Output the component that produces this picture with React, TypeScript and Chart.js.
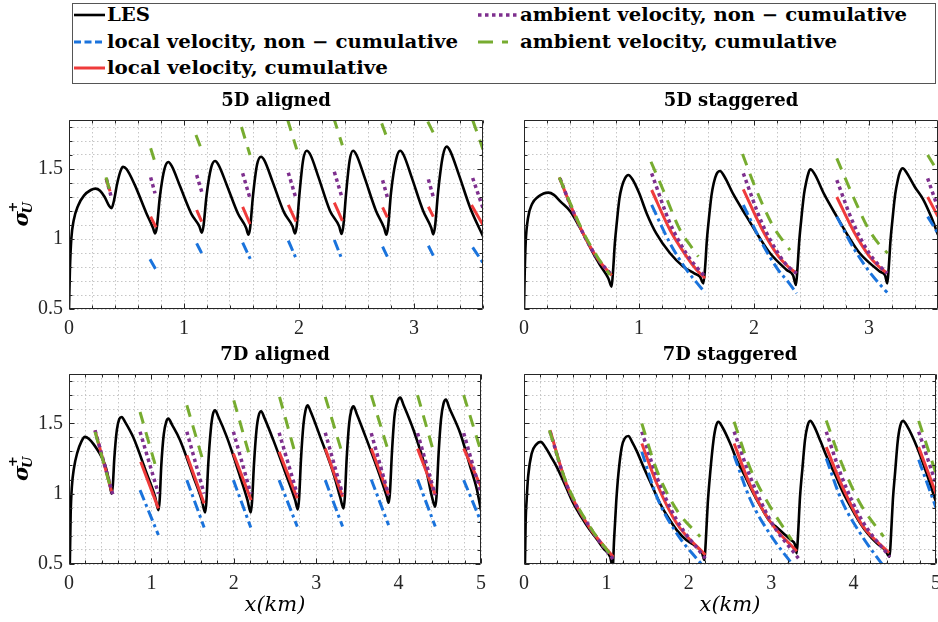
import React, { useEffect, useRef } from 'react';
import { Chart, registerables } from 'chart.js';

Chart.register(...registerables);

type P = [number, number];

// ---------------- text ----------------
const PANEL_TITLES = ['5D aligned', '5D staggered', '7D aligned', '7D staggered'];
const LEGEND_LABELS = [
  'LES',
  'local velocity, non \u2212 cumulative',
  'local velocity, cumulative',
  'ambient velocity, non \u2212 cumulative',
  'ambient velocity, cumulative',
];
const X_TITLE = 'x(km)';

// ---------------- ticks ----------------
const Y_TICKS = [0.5, 0.6, 0.7, 0.8, 0.9, 1.0, 1.1, 1.2, 1.3, 1.4, 1.5, 1.6, 1.7, 1.8];
const Y_TICK_LABELS = [0.5, 1, 1.5];
const X_TICKS_5D = [0, 0.2, 0.4, 0.6, 0.8, 1.0, 1.2, 1.4, 1.6, 1.8, 2.0, 2.2, 2.4, 2.6, 2.8, 3.0, 3.2, 3.4, 3.6];
const X_TICK_LABELS_5D = [0, 1, 2, 3];
const X_TICKS_7D = [0, 0.2, 0.4, 0.6, 0.8, 1.0, 1.2, 1.4, 1.6, 1.8, 2.0, 2.2, 2.4, 2.6, 2.8, 3.0, 3.2, 3.4, 3.6, 3.8, 4.0, 4.2, 4.4, 4.6, 4.8, 5.0];
const X_TICK_LABELS_7D = [0, 1, 2, 3, 4, 5];

// ---------------- 5D aligned ----------------
const TL_LES: P[] = [
  [0, 0.5], [0.008, 0.78], [0.02, 1.0], [0.04, 1.13], [0.08, 1.24], [0.13, 1.31], [0.19, 1.35], [0.23, 1.36],
  [0.27, 1.345], [0.31, 1.3], [0.35, 1.235], [0.37, 1.22], [0.39, 1.27], [0.42, 1.4], [0.45, 1.49], [0.47, 1.515],
  [0.5, 1.5], [0.57, 1.39], [0.67, 1.19], [0.73, 1.08], [0.748, 1.04], [0.763, 1.08], [0.79, 1.3], [0.83, 1.5],
  [0.864, 1.55], [0.894, 1.52], [0.964, 1.38], [1.064, 1.18], [1.134, 1.09], [1.154, 1.045], [1.169, 1.09],
  [1.196, 1.31], [1.236, 1.51], [1.27, 1.557], [1.3, 1.53], [1.37, 1.39], [1.47, 1.18], [1.54, 1.08], [1.56, 1.03],
  [1.575, 1.08], [1.6, 1.31], [1.635, 1.53], [1.67, 1.588], [1.7, 1.56], [1.77, 1.41], [1.87, 1.19], [1.945, 1.09],
  [1.965, 1.04], [1.98, 1.09], [2.005, 1.33], [2.035, 1.56], [2.067, 1.63], [2.1, 1.6], [2.17, 1.44], [2.27, 1.2],
  [2.35, 1.09], [2.37, 1.036], [2.385, 1.09], [2.41, 1.33], [2.44, 1.56], [2.47, 1.63], [2.5, 1.6], [2.57, 1.44],
  [2.67, 1.2], [2.74, 1.08], [2.76, 1.03], [2.775, 1.09], [2.8, 1.33], [2.845, 1.57], [2.88, 1.63], [2.91, 1.6],
  [2.98, 1.44], [3.08, 1.2], [3.15, 1.08], [3.168, 1.033], [3.183, 1.09], [3.21, 1.34], [3.25, 1.59], [3.284, 1.66],
  [3.314, 1.63], [3.39, 1.46], [3.49, 1.22], [3.6, 1.02],
];
const TL_LOCAL_NC: P[][] = [
  [[0.704, 0.855], [0.754, 0.783]], [[1.11, 0.969], [1.154, 0.898]], [[1.51, 0.974], [1.58, 0.85]],
  [[1.907, 0.988], [1.974, 0.862]], [[2.307, 0.993], [2.37, 0.862]], [[2.727, 0.945], [2.768, 0.874]],
  [[3.125, 0.952], [3.168, 0.881]], [[3.51, 0.94], [3.6, 0.83]],
];
const TL_LOCAL_C: P[][] = [
  [[0.322, 1.43], [0.357, 1.34]], [[0.71, 1.16], [0.757, 1.083]], [[1.11, 1.207], [1.154, 1.124]],
  [[1.51, 1.23], [1.574, 1.107]], [[1.907, 1.243], [1.974, 1.124]], [[2.307, 1.26], [2.377, 1.13]],
  [[2.727, 1.226], [2.768, 1.155]], [[3.125, 1.23], [3.168, 1.16]], [[3.5, 1.243], [3.6, 1.1]],
];
const TL_AMB_NC: P[][] = [
  [[0.325, 1.43], [0.364, 1.31]], [[0.71, 1.44], [0.748, 1.326]], [[1.11, 1.457], [1.154, 1.338]],
  [[1.51, 1.47], [1.574, 1.29]], [[1.907, 1.474], [1.97, 1.3]], [[2.307, 1.48], [2.37, 1.307]],
  [[2.727, 1.42], [2.768, 1.3]], [[3.125, 1.426], [3.168, 1.3]], [[3.51, 1.436], [3.6, 1.22]],
];
const TL_AMB_C: P[][] = [
  [[0.322, 1.44], [0.351, 1.355]], [[0.71, 1.648], [0.742, 1.564]], [[1.104, 1.743], [1.145, 1.655]],
  [[1.5, 1.8], [1.574, 1.6]], [[1.9, 1.855], [1.98, 1.64]], [[2.3, 1.87], [2.377, 1.67]],
  [[2.719, 1.826], [2.762, 1.73]], [[3.12, 1.838], [3.17, 1.755]], [[3.51, 1.85], [3.6, 1.64]],
];

// ---------------- 5D staggered ----------------
const TR_LES: P[] = [
  [0, 0.5], [0.006, 0.75], [0.015, 0.98], [0.035, 1.15], [0.07, 1.25], [0.12, 1.3], [0.17, 1.325], [0.212, 1.331],
  [0.26, 1.315], [0.32, 1.265], [0.4, 1.2], [0.48, 1.09], [0.545, 0.99], [0.6, 0.9], [0.661, 0.814], [0.733, 0.72],
  [0.762, 0.66], [0.775, 0.78], [0.79, 0.97], [0.806, 1.11], [0.83, 1.29], [0.85, 1.37], [0.878, 1.433], [0.907, 1.457],
  [0.94, 1.43], [1.0, 1.33], [1.067, 1.183], [1.15, 1.04], [1.27, 0.898], [1.386, 0.802], [1.48, 0.755], [1.53, 0.731],
  [1.56, 0.683], [1.575, 0.8], [1.59, 0.99], [1.606, 1.13], [1.63, 1.31], [1.65, 1.4], [1.675, 1.465], [1.704, 1.486],
  [1.74, 1.45], [1.82, 1.32], [1.936, 1.16], [2.04, 1.02], [2.14, 0.898], [2.284, 0.779], [2.34, 0.74], [2.365, 0.671],
  [2.378, 0.79], [2.393, 0.98], [2.41, 1.13], [2.435, 1.32], [2.455, 1.41], [2.475, 1.475], [2.49, 1.498], [2.53, 1.46],
  [2.61, 1.32], [2.72, 1.16], [2.82, 1.02], [2.92, 0.898], [3.096, 0.767], [3.14, 0.74], [3.159, 0.683], [3.172, 0.8],
  [3.187, 0.99], [3.203, 1.13], [3.228, 1.32], [3.25, 1.42], [3.27, 1.48], [3.293, 1.505], [3.33, 1.47], [3.4, 1.37],
  [3.473, 1.28], [3.54, 1.16], [3.6, 1.03],
];
const TR_LOCAL_NC: P[][] = [
  [[1.11, 1.243], [1.27, 0.969], [1.414, 0.779], [1.5, 0.69], [1.574, 0.617]],
  [[1.907, 1.243], [2.07, 0.97], [2.21, 0.78], [2.3, 0.69], [2.37, 0.612]],
  [[2.72, 1.16], [2.87, 0.93], [3.0, 0.77], [3.09, 0.68], [3.158, 0.617]],
  [[3.51, 1.16], [3.6, 1.04]],
];
const TR_LOCAL_C: P[][] = [
  [[0.307, 1.44], [0.4, 1.25], [0.52, 1.03], [0.64, 0.86], [0.762, 0.74]],
  [[1.11, 1.35], [1.27, 1.064], [1.414, 0.874], [1.5, 0.78], [1.574, 0.72]],
  [[1.907, 1.355], [2.07, 1.07], [2.21, 0.88], [2.3, 0.8], [2.37, 0.755]],
  [[2.72, 1.3], [2.87, 1.05], [3.0, 0.88], [3.09, 0.8], [3.158, 0.755]],
  [[3.51, 1.3], [3.6, 1.16]],
];
const TR_AMB_NC: P[][] = [
  [[0.313, 1.433], [0.4, 1.25], [0.52, 1.03], [0.64, 0.86], [0.748, 0.755]],
  [[1.11, 1.469], [1.27, 1.112], [1.41, 0.898], [1.5, 0.8], [1.574, 0.731]],
  [[1.907, 1.469], [2.07, 1.112], [2.21, 0.898], [2.3, 0.8], [2.37, 0.755]],
  [[2.72, 1.42], [2.87, 1.1], [3.0, 0.9], [3.09, 0.81], [3.158, 0.755]],
  [[3.51, 1.433], [3.6, 1.22]],
];
const TR_AMB_C: P[][] = [
  [[0.307, 1.44], [0.4, 1.26], [0.52, 1.04], [0.64, 0.87], [0.748, 0.743]],
  [[1.104, 1.552], [1.21, 1.35], [1.357, 1.064], [1.45, 0.95], [1.516, 0.874]],
  [[1.9, 1.607], [2.02, 1.35], [2.168, 1.088], [2.25, 0.99], [2.313, 0.921]],
  [[2.72, 1.576], [2.864, 1.3], [2.99, 1.08], [3.08, 0.97], [3.162, 0.898]],
  [[3.51, 1.6], [3.6, 1.48]],
];

// ---------------- 7D aligned ----------------
const BL_LES: P[] = [
  [0.01, 0.5], [0.02, 0.85], [0.035, 1.05], [0.06, 1.18], [0.1, 1.29], [0.15, 1.37], [0.194, 1.403], [0.24, 1.39],
  [0.3, 1.35], [0.377, 1.28], [0.44, 1.2], [0.49, 1.08], [0.518, 1.0], [0.532, 1.06], [0.55, 1.25], [0.58, 1.45],
  [0.61, 1.53], [0.64, 1.545], [0.68, 1.51], [0.78, 1.4], [0.943, 1.143], [1.045, 0.977], [1.085, 0.883], [1.1, 0.95],
  [1.12, 1.2], [1.15, 1.42], [1.18, 1.51], [1.206, 1.533], [1.25, 1.49], [1.348, 1.38], [1.51, 1.12], [1.611, 0.954],
  [1.652, 0.866], [1.667, 0.94], [1.69, 1.21], [1.72, 1.45], [1.745, 1.56], [1.773, 1.592], [1.81, 1.55], [1.915, 1.403],
  [2.077, 1.12], [2.166, 0.954], [2.206, 0.866], [2.221, 0.94], [2.245, 1.21], [2.275, 1.45], [2.3, 1.55], [2.332, 1.585],
  [2.37, 1.54], [2.48, 1.38], [2.644, 1.12], [2.745, 0.954], [2.777, 0.888], [2.792, 0.96], [2.815, 1.24], [2.845, 1.49],
  [2.87, 1.59], [2.895, 1.628], [2.935, 1.58], [3.049, 1.403], [3.21, 1.143], [3.29, 0.977], [3.332, 0.895], [3.347, 0.97],
  [3.37, 1.25], [3.4, 1.5], [3.425, 1.59], [3.453, 1.62], [3.49, 1.57], [3.615, 1.38], [3.777, 1.12], [3.858, 0.977],
  [3.879, 0.935], [3.894, 1.0], [3.92, 1.3], [3.95, 1.55], [3.99, 1.66], [4.02, 1.682], [4.06, 1.63], [4.182, 1.45],
  [4.344, 1.143], [4.405, 0.977], [4.445, 0.907], [4.46, 0.98], [4.485, 1.28], [4.515, 1.53], [4.545, 1.64], [4.575, 1.668],
  [4.615, 1.61], [4.749, 1.427], [4.87, 1.19], [4.95, 1.03], [5.0, 0.88],
];
const BL_LOCAL_NC: P[][] = [
  [[0.862, 1.025], [1.085, 0.706]], [[1.43, 1.096], [1.64, 0.76]], [[1.995, 1.096], [2.206, 0.76]],
  [[2.55, 1.096], [2.77, 0.766]], [[3.11, 1.096], [3.32, 0.766]], [[3.668, 1.1], [3.879, 0.776]],
  [[4.23, 1.1], [4.445, 0.766]], [[4.79, 1.096], [5.0, 0.8]],
];
const BL_LOCAL_C: P[][] = [
  [[0.316, 1.45], [0.518, 1.013]], [[0.87, 1.226], [1.085, 0.895]], [[1.43, 1.273], [1.64, 0.93]],
  [[1.995, 1.285], [2.21, 0.954]], [[2.55, 1.297], [2.77, 0.966]], [[3.11, 1.32], [3.32, 0.977]],
  [[3.668, 1.32], [3.879, 0.99]], [[4.23, 1.32], [4.445, 0.99]], [[4.79, 1.32], [5.0, 1.05]],
];
const BL_AMB_NC: P[][] = [
  [[0.316, 1.45], [0.53, 0.996]], [[0.862, 1.44], [1.085, 1.0]], [[1.43, 1.44], [1.64, 1.0]],
  [[1.995, 1.44], [2.206, 1.0]], [[2.55, 1.433], [2.77, 0.996]], [[3.11, 1.433], [3.32, 0.996]],
  [[3.668, 1.43], [3.879, 0.99]], [[4.23, 1.43], [4.445, 0.99]], [[4.79, 1.43], [5.0, 1.0]],
];
const BL_AMB_C: P[][] = [
  [[0.316, 1.439], [0.518, 1.013]], [[0.862, 1.58], [1.065, 1.167]], [[1.43, 1.628], [1.63, 1.226]],
  [[2.0, 1.663], [2.2, 1.25]], [[2.555, 1.687], [2.745, 1.285]], [[3.11, 1.687], [3.31, 1.297]],
  [[3.668, 1.7], [3.878, 1.297]], [[4.23, 1.7], [4.425, 1.297]], [[4.79, 1.7], [5.0, 1.3]],
];

// ---------------- 7D staggered ----------------
const BR_LES: P[] = [
  [0.012, 0.5], [0.02, 0.8], [0.032, 0.954], [0.05, 1.12], [0.093, 1.285], [0.15, 1.35], [0.202, 1.368], [0.26, 1.33],
  [0.33, 1.26], [0.397, 1.19], [0.5, 1.06], [0.6, 0.93], [0.7, 0.83], [0.8, 0.741], [0.88, 0.68], [0.964, 0.611],
  [1.045, 0.552], [1.077, 0.48], [1.093, 0.67], [1.12, 0.95], [1.146, 1.143], [1.186, 1.33], [1.225, 1.395], [1.267, 1.41],
  [1.31, 1.37], [1.37, 1.3], [1.45, 1.19], [1.55, 1.06], [1.652, 0.93], [1.75, 0.83], [1.854, 0.741], [1.97, 0.67],
  [2.097, 0.622], [2.16, 0.58], [2.19, 0.528], [2.205, 0.65], [2.23, 0.93], [2.259, 1.143], [2.3, 1.38], [2.33, 1.48],
  [2.36, 1.51], [2.41, 1.47], [2.5, 1.36], [2.583, 1.238], [2.685, 1.12], [2.785, 1.0], [2.89, 0.89], [2.988, 0.8],
  [3.07, 0.76], [3.15, 0.717], [3.24, 0.67], [3.291, 0.635], [3.31, 0.576], [3.325, 0.7], [3.35, 0.98], [3.379, 1.18],
  [3.41, 1.38], [3.44, 1.48], [3.474, 1.517], [3.52, 1.48], [3.6, 1.37], [3.676, 1.26], [3.78, 1.13], [3.879, 1.0],
  [3.98, 0.89], [4.08, 0.79], [4.18, 0.71], [4.283, 0.647], [4.38, 0.6], [4.437, 0.552], [4.452, 0.68], [4.477, 0.96],
  [4.505, 1.16], [4.535, 1.37], [4.565, 1.48], [4.6, 1.517], [4.65, 1.48], [4.77, 1.33], [4.9, 1.12], [5.0, 0.94],
];
const BR_LOCAL_NC: P[][] = [
  [[1.43, 1.297], [1.611, 0.978], [1.854, 0.717], [2.18, 0.48]],
  [[2.55, 1.27], [2.745, 0.96], [2.988, 0.71], [3.28, 0.48]],
  [[3.668, 1.25], [3.856, 0.95], [4.1, 0.7], [4.37, 0.48]],
  [[4.79, 1.24], [5.0, 0.9]],
];
const BR_LOCAL_C: P[][] = [
  [[0.316, 1.45], [0.52, 1.06], [0.8, 0.755], [1.085, 0.55]],
  [[1.43, 1.356], [1.611, 1.072], [1.854, 0.788], [2.2, 0.564]],
  [[2.55, 1.356], [2.745, 1.06], [2.988, 0.8], [3.31, 0.59]],
  [[3.668, 1.33], [3.856, 1.06], [4.1, 0.78], [4.43, 0.58]],
  [[4.79, 1.33], [5.0, 1.0]],
];
const BR_AMB_NC: P[][] = [
  [[0.316, 1.44], [0.52, 1.06], [0.8, 0.76], [1.085, 0.53]],
  [[1.43, 1.44], [1.611, 1.12], [1.854, 0.812], [2.2, 0.54]],
  [[2.55, 1.44], [2.745, 1.12], [2.988, 0.812], [3.33, 0.54]],
  [[3.668, 1.44], [3.856, 1.12], [4.1, 0.812], [4.44, 0.55]],
  [[4.79, 1.44], [5.0, 1.07]],
];
const BR_AMB_C: P[][] = [
  [[0.308, 1.45], [0.518, 1.072], [0.8, 0.765], [1.085, 0.54]],
  [[1.43, 1.498], [1.611, 1.167], [1.854, 0.883], [2.138, 0.694]],
  [[2.55, 1.51], [2.745, 1.18], [2.988, 0.907], [3.25, 0.67]],
  [[3.668, 1.52], [3.856, 1.214], [4.08, 0.93], [4.364, 0.694]],
  [[4.79, 1.517], [5.0, 1.143]],
];

// ---------------- styles ----------------
const C_LES = '#000000';
const C_LOCAL_NC = '#1a73dc';
const C_LOCAL_C = '#ef3b3b';
const C_AMB_NC = '#7e2f8e';
const C_AMB_C = '#77ac30';
const AXIS_COLOR = '#262626';
const GRID_COLOR = '#c6c6c6';

const near = (v: number, arr: number[]) => arr.some((a) => Math.abs(a - v) < 1e-6);

function flatten(segs: P[][]) {
  const out: { x: number; y: number | null }[] = [];
  segs.forEach((s, i) => {
    if (i > 0) {
      const prev = segs[i - 1][segs[i - 1].length - 1][0];
      out.push({ x: (prev + s[0][0]) / 2, y: null });
    }
    s.forEach(([x, y]) => out.push({ x, y }));
  });
  return out;
}

type Panel = {
  x: number; y: number; w: number; h: number;
  area: { l: number; t: number; r: number; b: number };
  xmax: number; xTicks: number[]; xLabels: number[];
  showYLabels: boolean; showXTitle: boolean;
  title: string;
  les: P[]; lnc: P[][]; lc: P[][]; anc: P[][]; ac: P[][];
};

function ChartPanel({ p }: { p: Panel }) {
  const ref = useRef<HTMLCanvasElement>(null);
  useEffect(() => {
    const decor = {
      id: 'decor',
      afterDraw(chart: any) {
        const { ctx, chartArea: a } = chart;
        const xs = chart.scales.x;
        const ys = chart.scales.y;
        ctx.save();
        ctx.strokeStyle = AXIS_COLOR;
        ctx.lineWidth = 1;
        const l = Math.round(a.left) + 0.5;
        const t = Math.round(a.top) + 0.5;
        const r = Math.round(a.right) - 0.5;
        const b = Math.round(a.bottom) - 0.5;
        ctx.beginPath();
        ctx.rect(l, t, r - l, b - t);
        xs.ticks.forEach((tk: any) => {
          const px = Math.round(xs.getPixelForValue(tk.value)) + 0.5;
          const len = near(tk.value, p.xLabels) ? 5 : 3;
          ctx.moveTo(px, b); ctx.lineTo(px, b - len);
          ctx.moveTo(px, t); ctx.lineTo(px, t + len);
        });
        ys.ticks.forEach((tk: any) => {
          const py = Math.round(ys.getPixelForValue(tk.value)) + 0.5;
          const len = near(tk.value, Y_TICK_LABELS) ? 5 : 3;
          ctx.moveTo(l, py); ctx.lineTo(l + len, py);
          ctx.moveTo(r, py); ctx.lineTo(r - len, py);
        });
        ctx.stroke();
        ctx.fillStyle = '#000';
        ctx.textAlign = 'center';
        ctx.textBaseline = 'alphabetic';
        ctx.font = 'bold 18px "DejaVu Serif"';
        ctx.fillText(p.title, (a.left + a.right) / 2, a.top - 14);
        if (p.showXTitle) {
          ctx.font = 'italic 21px "DejaVu Serif"';
          ctx.fillText(X_TITLE, (a.left + a.right) / 2, 611 - p.y);
        }
        if (p.showYLabels) {
          ctx.translate(28 - p.x, (a.top + a.bottom) / 2);
          ctx.rotate(-Math.PI / 2);
          ctx.textAlign = 'left';
          ctx.font = 'bold italic 21px "DejaVu Serif"';
          ctx.fillText('\u03c3', -12, 0);
          ctx.font = 'bold italic 13px "DejaVu Serif"';
          ctx.fillText('U', 1, 4);
          ctx.font = 'bold 13px "DejaVu Serif"';
          ctx.fillText('+', 2, -11);
        }
        ctx.restore();
      },
    };

    const seg = (segs: P[][], color: string, dash: number[], width: number, mono: boolean) => ({
      data: flatten(segs),
      borderColor: color,
      borderWidth: width,
      borderDash: dash,
      borderCapStyle: 'butt',
      pointRadius: 0,
      spanGaps: false,
      fill: false,
      clip: 0,
      cubicInterpolationMode: mono ? 'monotone' : 'default',
      tension: 0,
    });

    const tickFont = { family: 'Liberation Serif', size: 20 };
    const chart = new Chart(ref.current!, {
      type: 'line',
      data: {
        datasets: [
          seg(p.ac, C_AMB_C, [12, 9], 3, true),
          seg(p.anc, C_AMB_NC, [3.5, 3.5], 3.5, true),
          seg(p.lc, C_LOCAL_C, [], 3, true),
          seg(p.lnc, C_LOCAL_NC, [11, 4, 3, 4], 3, true),
          {
            data: p.les.map(([x, y]) => ({ x, y })),
            borderColor: C_LES,
            borderWidth: 2.6,
            pointRadius: 0,
            fill: false,
            clip: 0,
            cubicInterpolationMode: 'monotone',
          },
        ] as any,
      },
      options: {
        animation: false,
        responsive: false,
        devicePixelRatio: 1,
        events: [],
        layout: { padding: { left: 0, top: p.area.t - p.y, right: p.x + p.w - p.area.r, bottom: 0 } },
        plugins: { legend: { display: false }, tooltip: { enabled: false }, title: { display: false } },
        scales: {
          x: {
            type: 'linear',
            min: 0,
            max: p.xmax,
            afterBuildTicks: (s: any) => { s.ticks = p.xTicks.map((v) => ({ value: v })); },
            ticks: {
              autoSkip: false,
              maxRotation: 0,
              padding: 8,
              font: tickFont,
              color: AXIS_COLOR,
              callback: (v: any) => (near(Number(v), p.xLabels) ? String(Math.round(Number(v))) : ''),
            },
            grid: { color: GRID_COLOR, lineWidth: 1, drawTicks: false },
            border: { display: false, dash: [1.5, 2.5] },
            afterFit: (s: any) => {
              s.height = p.y + p.h - p.area.b;
              s.paddingLeft = 0; s.paddingRight = 0;
            },
          },
          y: {
            type: 'linear',
            min: 0.5,
            max: 1.85,
            afterBuildTicks: (s: any) => { s.ticks = Y_TICKS.map((v) => ({ value: v })); },
            ticks: {
              autoSkip: false,
              padding: 6,
              font: tickFont,
              color: AXIS_COLOR,
              callback: (v: any) =>
                p.showYLabels && near(Number(v), Y_TICK_LABELS) ? String(Math.round(Number(v) * 10) / 10) : '',
            },
            grid: { color: GRID_COLOR, lineWidth: 1, drawTicks: false },
            border: { display: false, dash: [1.5, 2.5] },
            afterFit: (s: any) => {
              s.width = p.area.l - p.x;
              s.paddingTop = 0; s.paddingBottom = 0;
            },
          },
        },
      } as any,
      plugins: [decor],
    });
    return () => chart.destroy();
  }, [p]);
  return (
    <canvas
      ref={ref}
      width={p.w}
      height={p.h}
      style={{ position: 'absolute', left: p.x, top: p.y, width: p.w, height: p.h }}
    />
  );
}

const PANELS: Panel[] = [
  {
    x: 0, y: 88, w: 490, h: 252, area: { l: 69, t: 120, r: 483, b: 309 },
    xmax: 3.6, xTicks: X_TICKS_5D, xLabels: X_TICK_LABELS_5D, showYLabels: true, showXTitle: false,
    title: PANEL_TITLES[0], les: TL_LES, lnc: TL_LOCAL_NC, lc: TL_LOCAL_C, anc: TL_AMB_NC, ac: TL_AMB_C,
  },
  {
    x: 490, y: 88, w: 448, h: 252, area: { l: 524, t: 120, r: 938, b: 309 },
    xmax: 3.6, xTicks: X_TICKS_5D, xLabels: X_TICK_LABELS_5D, showYLabels: false, showXTitle: false,
    title: PANEL_TITLES[1], les: TR_LES, lnc: TR_LOCAL_NC, lc: TR_LOCAL_C, anc: TR_AMB_NC, ac: TR_AMB_C,
  },
  {
    x: 0, y: 340, w: 490, h: 282, area: { l: 69, t: 374, r: 481, b: 564 },
    xmax: 5, xTicks: X_TICKS_7D, xLabels: X_TICK_LABELS_7D, showYLabels: true, showXTitle: true,
    title: PANEL_TITLES[2], les: BL_LES, lnc: BL_LOCAL_NC, lc: BL_LOCAL_C, anc: BL_AMB_NC, ac: BL_AMB_C,
  },
  {
    x: 490, y: 340, w: 448, h: 282, area: { l: 524, t: 374, r: 936, b: 564 },
    xmax: 5, xTicks: X_TICKS_7D, xLabels: X_TICK_LABELS_7D, showYLabels: false, showXTitle: true,
    title: PANEL_TITLES[3], les: BR_LES, lnc: BR_LOCAL_NC, lc: BR_LOCAL_C, anc: BR_AMB_NC, ac: BR_AMB_C,
  },
];

function Legend() {
  const txt = { fontFamily: 'DejaVu Serif', fontWeight: 'bold' as const, fontSize: 18, fill: '#000' };
  return (
    <svg width={938} height={90} style={{ position: 'absolute', left: 0, top: 0 }}>
      <rect x={72.5} y={3.5} width={863} height={80} fill="#fff" stroke="#555" strokeWidth={1} />
      <line x1={74} x2={105} y1={15} y2={15} stroke={C_LES} strokeWidth={2.6} />
      <text x={107} y={21} {...txt} textLength={43} lengthAdjust="spacingAndGlyphs">{LEGEND_LABELS[0]}</text>
      <line x1={74} x2={105} y1={42} y2={42} stroke={C_LOCAL_NC} strokeWidth={3} strokeDasharray="7 3.5" />
      <text x={107} y={48} {...txt} textLength={351} lengthAdjust="spacingAndGlyphs">{LEGEND_LABELS[1]}</text>
      <line x1={74} x2={105} y1={68} y2={68} stroke={C_LOCAL_C} strokeWidth={3} />
      <text x={107} y={74} {...txt} textLength={281} lengthAdjust="spacingAndGlyphs">{LEGEND_LABELS[2]}</text>
      <line x1={478} x2={517} y1={15} y2={15} stroke={C_AMB_NC} strokeWidth={3.5} strokeDasharray="3.5 3.5" />
      <text x={520} y={21} {...txt} textLength={387} lengthAdjust="spacingAndGlyphs">{LEGEND_LABELS[3]}</text>
      <line x1={478} x2={508} y1={42} y2={42} stroke={C_AMB_C} strokeWidth={3} strokeDasharray="15 9" />
      <text x={520} y={48} {...txt} textLength={317} lengthAdjust="spacingAndGlyphs">{LEGEND_LABELS[4]}</text>
    </svg>
  );
}

export default function App() {
  return (
    <div style={{ position: 'absolute', left: 0, top: 0, width: 938, height: 622, background: '#fff', overflow: 'hidden' }}>
      <Legend />
      {PANELS.map((p, i) => (
        <ChartPanel key={i} p={p} />
      ))}
    </div>
  );
}
